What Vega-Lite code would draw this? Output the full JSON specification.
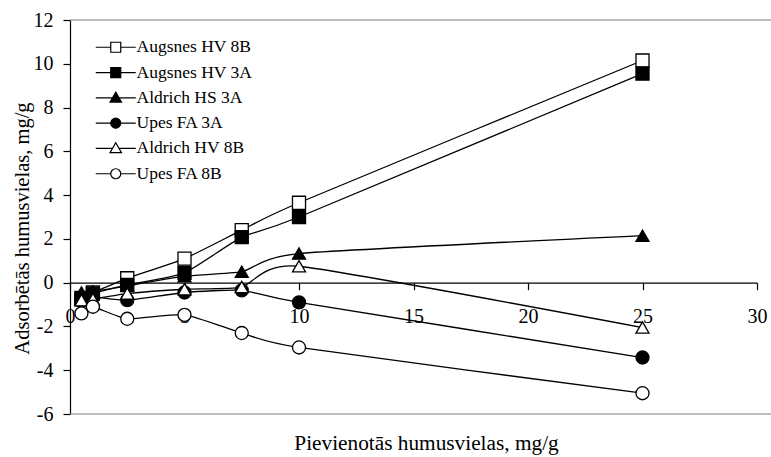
{
  "$schema": "https://vega.github.io/schema/vega-lite/v6.json",
  "width": 687,
  "height": 394,
  "autosize": "none",
  "padding": {"left": 70, "top": 20, "right": 14, "bottom": 43},
  "background": "white",
  "config": {
    "view": {"stroke": null},
    "font": "Liberation Serif",
    "axis": {
      "grid": false,
      "domainColor": "black",
      "tickColor": "black",
      "labelColor": "black",
      "titleColor": "black",
      "labelFont": "Liberation Serif",
      "titleFont": "Liberation Serif",
      "labelFontSize": 20,
      "titleFontSize": 20.5,
      "titleFontWeight": "normal",
      "tickSize": 7,
      "domainWidth": 1.2,
      "tickWidth": 1.2
    },
    "legend": {
      "labelFont": "Liberation Serif",
      "labelFontSize": 17.5,
      "labelColor": "black"
    }
  },
  "data": {
    "values": [
      {"series": "Augsnes HV 8B", "x": 0.5, "y": -0.7},
      {"series": "Augsnes HV 8B", "x": 1, "y": -0.45},
      {"series": "Augsnes HV 8B", "x": 2.5, "y": 0.2},
      {"series": "Augsnes HV 8B", "x": 5, "y": 1.1},
      {"series": "Augsnes HV 8B", "x": 7.5, "y": 2.4},
      {"series": "Augsnes HV 8B", "x": 10, "y": 3.65},
      {"series": "Augsnes HV 8B", "x": 25, "y": 10.15},
      {"series": "Augsnes HV 3A", "x": 0.5, "y": -0.75},
      {"series": "Augsnes HV 3A", "x": 1, "y": -0.5},
      {"series": "Augsnes HV 3A", "x": 2.5, "y": -0.1},
      {"series": "Augsnes HV 3A", "x": 5, "y": 0.45},
      {"series": "Augsnes HV 3A", "x": 7.5, "y": 2.08},
      {"series": "Augsnes HV 3A", "x": 10, "y": 3.0},
      {"series": "Augsnes HV 3A", "x": 25, "y": 9.55},
      {"series": "Aldrich HS 3A", "x": 0.5, "y": -0.45},
      {"series": "Aldrich HS 3A", "x": 1, "y": -0.4},
      {"series": "Aldrich HS 3A", "x": 2.5, "y": -0.15},
      {"series": "Aldrich HS 3A", "x": 5, "y": 0.3},
      {"series": "Aldrich HS 3A", "x": 7.5, "y": 0.5},
      {"series": "Aldrich HS 3A", "x": 10, "y": 1.33},
      {"series": "Aldrich HS 3A", "x": 25, "y": 2.15},
      {"series": "Upes FA 3A", "x": 0.5, "y": -0.85},
      {"series": "Upes FA 3A", "x": 1, "y": -0.65},
      {"series": "Upes FA 3A", "x": 2.5, "y": -0.8},
      {"series": "Upes FA 3A", "x": 5, "y": -0.45},
      {"series": "Upes FA 3A", "x": 7.5, "y": -0.35},
      {"series": "Upes FA 3A", "x": 10, "y": -0.9},
      {"series": "Upes FA 3A", "x": 25, "y": -3.42},
      {"series": "Aldrich HV 8B", "x": 0.5, "y": -0.8},
      {"series": "Aldrich HV 8B", "x": 1, "y": -0.75},
      {"series": "Aldrich HV 8B", "x": 2.5, "y": -0.5},
      {"series": "Aldrich HV 8B", "x": 5, "y": -0.3},
      {"series": "Aldrich HV 8B", "x": 7.5, "y": -0.2},
      {"series": "Aldrich HV 8B", "x": 10, "y": 0.75},
      {"series": "Aldrich HV 8B", "x": 25, "y": -2.05},
      {"series": "Upes FA 8B", "x": 0.5, "y": -1.4},
      {"series": "Upes FA 8B", "x": 1, "y": -1.1},
      {"series": "Upes FA 8B", "x": 2.5, "y": -1.65},
      {"series": "Upes FA 8B", "x": 5, "y": -1.47},
      {"series": "Upes FA 8B", "x": 7.5, "y": -2.3},
      {"series": "Upes FA 8B", "x": 10, "y": -2.96},
      {"series": "Upes FA 8B", "x": 25, "y": -5.05}
    ]
  },
  "layer": [
    {
      "mark": {"type": "line", "interpolate": "cardinal", "tension": 0.45, "color": "black", "strokeWidth": 1.3},
      "encoding": {
        "x": {
          "field": "x",
          "type": "quantitative",
          "scale": {"domain": [0, 30], "nice": false},
          "axis": {
            "values": [0, 5, 10, 15, 20, 25, 30],
            "offset": -131.33,
            "labelPadding": 17,
            "labelFlush": false,
            "labelOverlap": false,
            "title": "Pievienotās humusvielas, mg/g",
            "titleFontSize": 21.3,
            "titleX": 356,
            "titleY": 167,
            "titleBaseline": "alphabetic"
          }
        },
        "y": {
          "field": "y",
          "type": "quantitative",
          "scale": {"domain": [-6, 12], "nice": false},
          "axis": {
            "values": [-6, -4, -2, 0, 2, 4, 6, 8, 10, 12],
            "labelExpr": "'' + datum.value",
            "labelPadding": 10,
            "title": "Adsorbētās humusvielas, mg/g",
            "titleX": -48,
            "titleY": 208,
            "titleBaseline": "middle"
          }
        },
        "detail": {"field": "series", "type": "nominal"}
      }
    },
    {
      "mark": {"type": "point", "filled": true, "size": 170, "stroke": "black", "strokeWidth": 1.3, "opacity": 1},
      "encoding": {
        "x": {"field": "x", "type": "quantitative", "title": "Pievienotās humusvielas, mg/g"},
        "y": {"field": "y", "type": "quantitative", "title": "Adsorbētās humusvielas, mg/g"},
        "shape": {
          "condition": [
            {"test": "datum.series == 'Augsnes HV 8B' || datum.series == 'Augsnes HV 3A'", "value": "square"},
            {"test": "datum.series == 'Aldrich HS 3A' || datum.series == 'Aldrich HV 8B'", "value": "triangle-up"}
          ],
          "value": "circle"
        },
        "fill": {
          "field": "series",
          "type": "nominal",
          "scale": {
            "domain": ["Augsnes HV 8B", "Augsnes HV 3A", "Aldrich HS 3A", "Upes FA 3A", "Aldrich HV 8B", "Upes FA 8B"],
            "range": ["white", "black", "black", "black", "white", "white"]
          },
          "legend": {
            "orient": "none",
            "legendX": 37,
            "legendY": 18.5,
            "title": null,
            "padding": 0,
            "labelOffset": 12,
            "rowPadding": 6.3,
            "symbolSize": 100,
            "symbolStrokeColor": "black",
            "symbolStrokeWidth": 1.2,
            "symbolOpacity": 1,
            "encode": {
              "symbols": {
                "update": {
                  "stroke": {"value": "black"},
                  "strokeWidth": {"value": 1.2},
                  "shape": {
                    "signal": "indexof(['Augsnes HV 8B', 'Augsnes HV 3A'], datum.value) >= 0 ? 'M-4,0H-1M1,0H4M-1,-1H1V1H-1Z' : indexof(['Aldrich HS 3A', 'Aldrich HV 8B'], datum.value) >= 0 ? 'M-4,0H-0.66M0.66,0H4M0,-1.15L1.15,0.85H-1.15Z' : 'M-4,0H-1M1,0H4M1,0A1,1,0,1,1,-1,0A1,1,0,1,1,1,0Z'"
                  }
                }
              }
            }
          }
        }
      }
    },
    {
      "data": {"values": [{"edge": 12}, {"edge": -6}]},
      "mark": {"type": "rule", "color": "#808080", "strokeWidth": 1.2},
      "encoding": {
        "y": {"field": "edge", "type": "quantitative", "title": "Adsorbētās humusvielas, mg/g"},
        "x": {"datum": 0, "type": "quantitative"},
        "x2": {"datum": 30.62}
      }
    }
  ]
}
